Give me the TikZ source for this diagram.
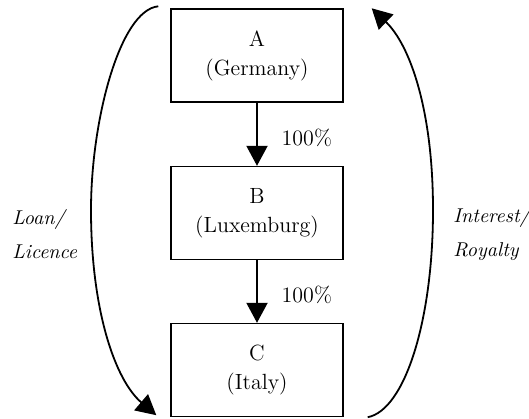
\documentclass[tikz,border=0pt]{standalone}
\usepackage{tikz}
\usetikzlibrary{arrows.meta,positioning}

\begin{document}
\begin{tikzpicture}[x=0.5pt, y=-0.5pt, >={Triangle[length=10pt,width=10.5pt]},
  every node/.style={font=\fontsize{11}{14.5}\selectfont},
  company/.style={draw, line width=0.7pt, minimum width=86pt, minimum height=46.5pt,
    inner sep=2pt, align=center},
  holding/.style={->, line width=1pt},
  flow/.style={->, line width=0.9pt},
  flowlabel/.style={font=\fontsize{10}{17}\selectfont\itshape, align=left, anchor=west,
    inner sep=0pt}]

  \useasboundingbox (0,0) rectangle (529,418);

  % ===== Companies =====
  \node[company] (germany)   at (257,55.5) {A\\(Germany)};
  \node[company] (luxemburg) at (257,213)  {B\\(Luxemburg)};
  \node[company] (italy)     at (257,370)  {C\\(Italy)};

  % ===== Shareholdings =====
  \draw[holding] (germany) -- (luxemburg)
    node[pos=0.55, right=8.5pt] {100\%};
  \draw[holding] (luxemburg) -- (italy)
    node[pos=0.55, right=8.5pt] {100\%};

  % ===== Financing (left) and payments (right) =====
  \coordinate (loan start) at ([xshift=-6pt, yshift=1pt]germany.north west);
  \coordinate (loan end)   at ([xshift=-7pt, yshift=1pt]italy.south west);
  \coordinate (pay start)  at ([xshift=12pt, yshift=0pt]italy.south east);
  \coordinate (pay end)    at ([xshift=14pt, yshift=0pt]germany.north east);

  \draw[flow] (loan start) .. controls (120,10) and (91,120) .. (91,210)
    .. controls (91,310) and (115,380) .. (loan end);
  \draw[flow] (pay start) .. controls (405,410) and (433,320) .. (433,210)
    .. controls (433,110) and (410,45) .. (pay end);

  \node[flowlabel] (loan)     at (12,234)  {Loan/\\Licence};
  \node[flowlabel] (interest) at (453,234) {Interest/\\Royalty};

\end{tikzpicture}
\end{document}
